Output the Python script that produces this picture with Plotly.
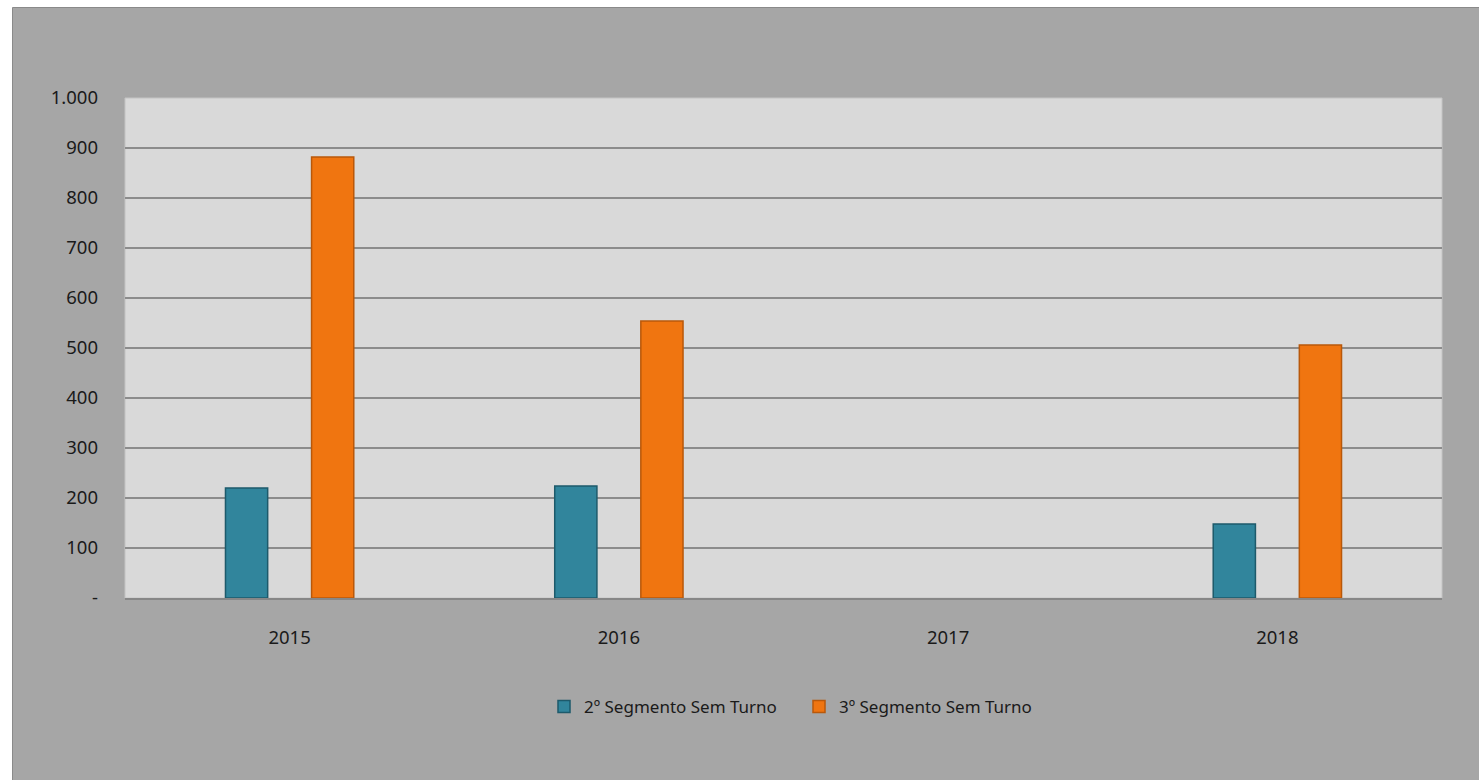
import plotly.graph_objects as go

years = ["2015", "2016", "2017", "2018"]
seg2 = [220, 224, None, 148]
seg3 = [882, 554, None, 506]
series_names = ["2º Segmento Sem Turno", "3º Segmento Sem Turno"]
ytick_vals = [0, 100, 200, 300, 400, 500, 600, 700, 800, 900, 1000]
ytick_text = ["-", "100", "200", "300", "400", "500", "600", "700", "800", "900", "1.000"]

fig = go.Figure()
fig.add_trace(go.Bar(x=years, y=seg2, name=series_names[0],
                     marker=dict(color="#31859c", line=dict(color="#1d5a6b", width=1.5))))
fig.add_trace(go.Bar(x=years, y=seg3, name=series_names[1],
                     marker=dict(color="#f07510", line=dict(color="#b9580a", width=1.5))))

W, H = 1479, 780
l, r, t, b = 125, 37, 98, 182
pw, ph = W - l - r, H - t - b

def px_x(p):
    return (p - l) / pw

def px_y(p):
    return (H - b - p) / ph

# outer grey chart area
fig.add_shape(type="rect", xref="paper", yref="paper", layer="below",
              x0=px_x(12.5), x1=px_x(1490), y0=px_y(790), y1=px_y(7.5),
              fillcolor="#a6a6a6", line=dict(color="#8a8a8a", width=1))
# plot area background
fig.add_shape(type="rect", xref="paper", yref="paper", layer="below",
              x0=0, x1=1, y0=0, y1=1,
              fillcolor="#d9d9d9", line=dict(color="#c4c4c4", width=1))

fig.update_layout(
    width=W, height=H,
    margin=dict(l=l, r=r, t=t, b=b),
    paper_bgcolor="white",
    plot_bgcolor="#d9d9d9",
    barmode="group",
    bargap=0.477,
    bargroupgap=0.51,
    font=dict(family="Noto Sans, Open Sans, sans-serif", size=17, color="#1a1a1a"),
    showlegend=True,
    legend=dict(orientation="h", x=px_x(544), y=px_y(707), xanchor="left", yanchor="middle",
                bgcolor="rgba(0,0,0,0)", font=dict(size=17), itemwidth=30,
                entrywidth=210, entrywidthmode="pixels",
                traceorder="normal"),
    xaxis=dict(showgrid=False, showline=True, linecolor="#878787", linewidth=2,
               ticks="", ticklabelstandoff=22, tickfont=dict(size=18.5),
               zeroline=False),
    yaxis=dict(range=[0, 1000], tickvals=ytick_vals, ticktext=ytick_text,
               showgrid=True, gridcolor="#8c8c8c", gridwidth=1.5,
               showline=False,
               zeroline=False, ticks="", ticklabelstandoff=26, tickfont=dict(size=18.5)),
)

fig.write_html("out.html", config={"displayModeBar": False},
               post_script="document.body.style.margin='0';")
